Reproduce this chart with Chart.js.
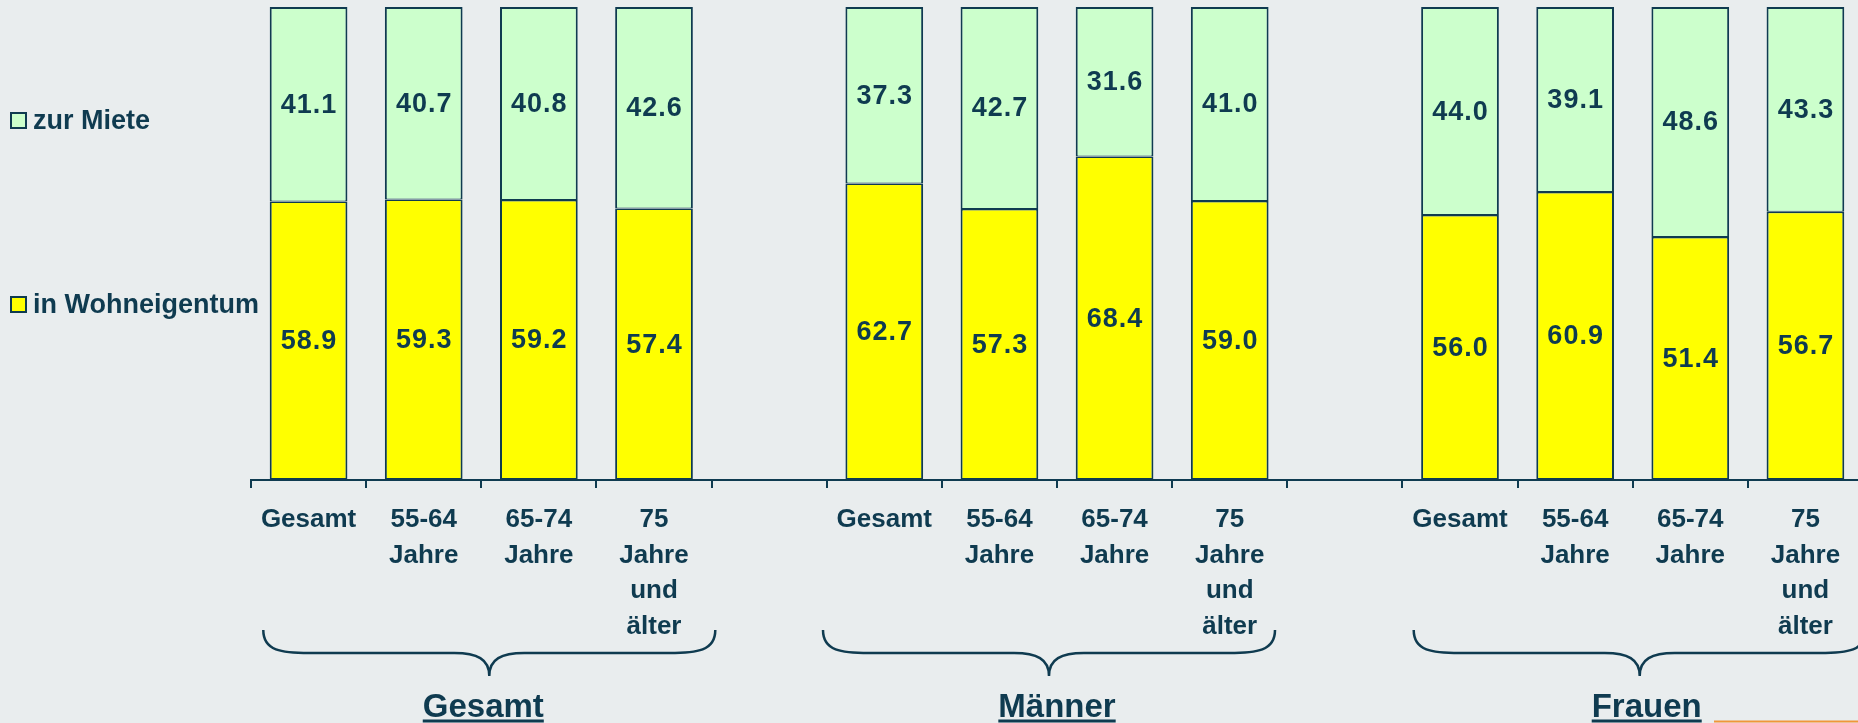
<!DOCTYPE html>
<html>
<head>
<meta charset="utf-8">
<script src="https://cdn.jsdelivr.net/npm/chart.js@4.4.0/dist/chart.umd.min.js"></script>
<style>
  html, body { margin: 0; padding: 0; background: #e9edee; overflow: hidden; }
  #wrap { position: relative; width: 1863px; height: 723px; }
</style>
</head>
<body>
<div id="wrap"><canvas id="chart"></canvas></div>
<script>
// Wohnsituation nach Alter und Geschlecht (in %)
const categories = [
    ['Gesamt'], ['55-64', 'Jahre'], ['65-74', 'Jahre'], ['75', 'Jahre', 'und', 'älter'], '',
    ['Gesamt'], ['55-64', 'Jahre'], ['65-74', 'Jahre'], ['75', 'Jahre', 'und', 'älter'], '',
    ['Gesamt'], ['55-64', 'Jahre'], ['65-74', 'Jahre'], ['75', 'Jahre', 'und', 'älter']
];
const eigentum = [58.9, 59.3, 59.2, 57.4, null, 62.7, 57.3, 68.4, 59.0, null, 56.0, 60.9, 51.4, 56.7];
const miete    = [41.1, 40.7, 40.8, 42.6, null, 37.3, 42.7, 31.6, 41.0, null, 44.0, 39.1, 48.6, 43.3];
const seriesNames = ['in Wohneigentum', 'zur Miete'];
const groupNames  = ['Gesamt', 'Männer', 'Frauen'];
const groupFirst  = [0, 5, 10];
const groupLast   = [3, 8, 13];

const INK  = '#0f3b50';
const FONT = '"Liberation Sans", Arial, sans-serif';

// value labels centred in each bar segment
const barLabels = {
    id: 'barLabels',
    afterDatasetsDraw(chart) {
        const ctx = chart.ctx;
        ctx.save();
        ctx.font = 'bold 27px ' + FONT;
        ctx.letterSpacing = '1px';
        ctx.fillStyle = INK;
        ctx.textAlign = 'center';
        ctx.textBaseline = 'middle';
        chart.data.datasets.forEach((ds, i) => {
            chart.getDatasetMeta(i).data.forEach((bar, j) => {
                const v = ds.data[j];
                if (v == null) return;
                ctx.fillText(v.toFixed(1), bar.x + 0.5, (bar.y + bar.base) / 2 + 1);
            });
        });
        ctx.restore();
    }
};

// legend on the left, braces + group titles underneath
const braceShift = [8, -8, 7];
const titleShift = [2, 0, 14];

function drawBrace(ctx, x1, x2, xm, yTop, yMid, yTip) {
    const r = 46, t = 35;
    ctx.beginPath();
    ctx.moveTo(x1, yTop);
    ctx.bezierCurveTo(x1, yMid - 2, x1 + r * 0.4, yMid, x1 + r, yMid);
    ctx.lineTo(xm - t, yMid);
    ctx.bezierCurveTo(xm - t * 0.35, yMid, xm, yMid + 6, xm, yTip);
    ctx.bezierCurveTo(xm, yMid + 6, xm + t * 0.35, yMid, xm + t, yMid);
    ctx.lineTo(x2 - r, yMid);
    ctx.bezierCurveTo(x2 - r * 0.4, yMid, x2, yMid - 2, x2, yTop);
    ctx.stroke();
}

const decor = {
    id: 'decor',
    afterDraw(chart) {
        const ctx = chart.ctx;
        const x = chart.scales.x;
        ctx.save();

        // legend (reverse order: zur Miete on top)
        const legendY = [305, 121];
        ctx.font = 'bold 27px ' + FONT;
        ctx.textBaseline = 'middle';
        ctx.textAlign = 'left';
        chart.data.datasets.forEach((ds, i) => {
            const y = legendY[i];
            ctx.fillStyle = ds.backgroundColor;
            ctx.fillRect(11, y - 8, 15, 15);
            ctx.strokeStyle = INK;
            ctx.lineWidth = 2;
            ctx.strokeRect(11, y - 8, 15, 15);
            ctx.fillStyle = INK;
            ctx.fillText(ds.label, 33, y + 1);
        });

        // braces and group titles
        ctx.strokeStyle = INK;
        ctx.lineWidth = 2.5;
        const half = (x.getPixelForValue(1) - x.getPixelForValue(0)) / 2;
        groupNames.forEach((name, g) => {
            const left = x.getPixelForValue(groupFirst[g]) - half;
            const right = x.getPixelForValue(groupLast[g]) + half;
            const mid = (left + right) / 2;
            const bw = 454;
            const bm = mid + braceShift[g];
            drawBrace(ctx, bm - bw / 2 + 1, bm + bw / 2 - 1, bm, 630, 653, 676);

            const tx = mid + titleShift[g];
            ctx.font = 'bold 33px ' + FONT;
            ctx.textAlign = 'center';
            ctx.textBaseline = 'alphabetic';
            ctx.fillStyle = INK;
            ctx.fillText(name, tx, 717);
            const w = ctx.measureText(name).width;
            ctx.lineWidth = 3;
            ctx.beginPath();
            ctx.moveTo(tx - w / 2, 721);
            ctx.lineTo(tx + w / 2, 721);
            ctx.stroke();
            ctx.lineWidth = 2.5;
        });

        // orange accent line, bottom right
        ctx.strokeStyle = '#f0963a';
        ctx.lineWidth = 2;
        ctx.beginPath();
        ctx.moveTo(1714, 721.5);
        ctx.lineTo(1900, 721.5);
        ctx.stroke();

        ctx.restore();
    }
};

new Chart(document.getElementById('chart'), {
    type: 'bar',
    data: {
        labels: categories,
        datasets: [
            {
                label: seriesNames[0],
                data: eigentum,
                backgroundColor: '#ffff00',
                borderColor: INK,
                borderWidth: { top: 1.5, right: 2, bottom: 2, left: 2 },
                borderSkipped: false,
                barPercentage: 0.675,
                categoryPercentage: 1
            },
            {
                label: seriesNames[1],
                data: miete,
                backgroundColor: '#ccffcc',
                borderColor: INK,
                borderWidth: { top: 2, right: 2, bottom: 1, left: 2 },
                borderSkipped: false,
                barPercentage: 0.675,
                categoryPercentage: 1
            }
        ]
    },
    options: {
        responsive: true,
        maintainAspectRatio: false,
        animation: false,
        events: [],
        layout: { padding: { left: 251, top: 7, right: 0, bottom: 0 } },
        plugins: { legend: { display: false }, tooltip: { enabled: false } },
        scales: {
            x: {
                stacked: true,
                afterFit: s => { s.height = 243; },
                grid: {
                    drawOnChartArea: false, drawTicks: true, tickLength: 8,
                    color: INK, lineWidth: 2
                },
                border: { display: true, color: INK, width: 2 },
                ticks: {
                    color: INK, padding: 14, maxRotation: 0, autoSkip: false,
                    font: { family: FONT, size: 26, weight: 'bold', lineHeight: 1.37 }
                }
            },
            y: {
                stacked: true, display: false, min: 0, max: 100
            }
        }
    },
    plugins: [barLabels, decor]
});
</script>
</body>
</html>
